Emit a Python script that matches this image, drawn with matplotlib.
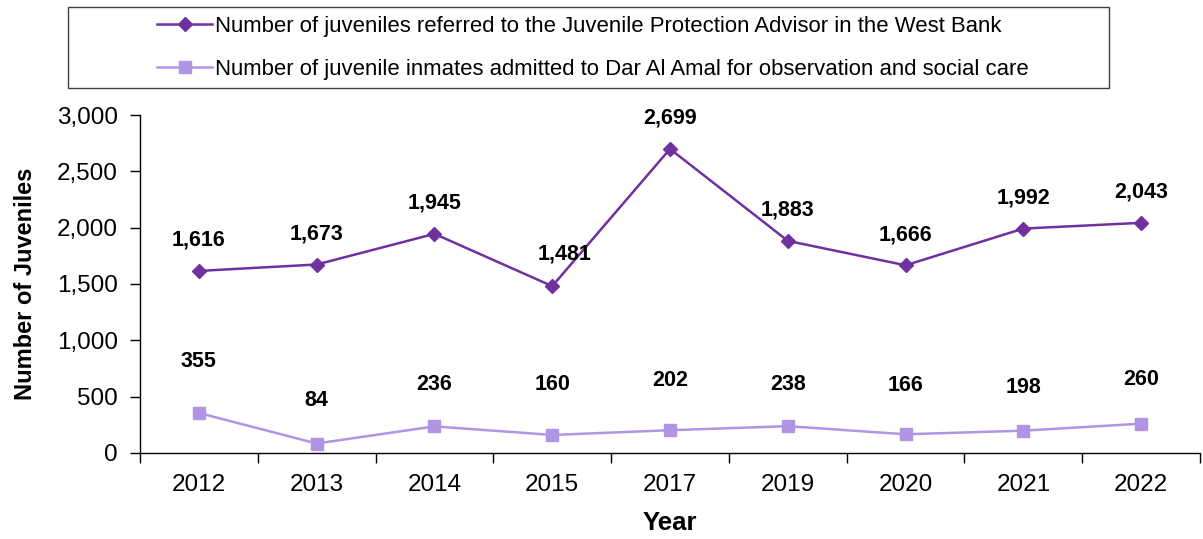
import matplotlib
matplotlib.use("Agg")
import matplotlib.pyplot as plt
from matplotlib.patches import Rectangle
from matplotlib.ticker import FuncFormatter, FixedLocator

plt.rcParams['font.family'] = ['Liberation Sans', 'DejaVu Sans']

years = ['2012', '2013', '2014', '2015', '2017', '2019', '2020', '2021', '2022']
referred = [1616, 1673, 1945, 1481, 2699, 1883, 1666, 1992, 2043]
admitted = [355, 84, 236, 160, 202, 238, 166, 198, 260]

label_referred = 'Number of juveniles referred to the Juvenile Protection Advisor in the West Bank'
label_admitted = 'Number of juvenile inmates admitted to Dar Al Amal for observation and social care'

dark = '#7030A0'
light = '#B294E4'

fig = plt.figure(figsize=(12.03, 5.39), dpi=100)
ax = fig.add_axes([0.1164, 0.1596, 0.8811, 0.627])

x = list(range(len(years)))
ax.plot(x, referred, color=dark, lw=1.8, marker='D', ms=7.5, label=label_referred)
ax.plot(x, admitted, color=light, lw=1.8, marker='s', ms=9, label=label_admitted)

# label offsets in points (dx, dy)
off1 = [(0, 22)] * len(x)
off1[3] = (9, 23)
off2 = [(0, 37), (0, 31), (0, 30), (0, 36), (0, 36), (0, 30), (0, 35), (0, 31), (0, 32)]
for i in x:
    ax.annotate(f'{referred[i]:,}', (i, referred[i]), xytext=off1[i], textcoords='offset points',
                ha='center', va='center', fontsize=15.5, fontweight='bold')
    ax.annotate(f'{admitted[i]:,}', (i, admitted[i]), xytext=off2[i], textcoords='offset points',
                ha='center', va='center', fontsize=15.5, fontweight='bold')

ax.set_xlim(-0.5, len(years) - 0.5)
ax.set_ylim(0, 3000)
ax.set_yticks(range(0, 3001, 500))
ax.yaxis.set_major_formatter(FuncFormatter(lambda v, p: f'{int(v):,}'))
ax.set_xticks(x)
ax.set_xticklabels(years)
ax.xaxis.set_minor_locator(FixedLocator([i - 0.5 for i in range(len(years) + 1)]))
ax.tick_params(axis='x', which='major', length=0, labelsize=17.5, pad=15)
ax.tick_params(axis='x', which='minor', length=7, width=1)
ax.tick_params(axis='y', length=7, width=1, labelsize=17.5, pad=9)

for s in ['top', 'right']:
    ax.spines[s].set_visible(False)
for s in ['left', 'bottom']:
    ax.spines[s].set_linewidth(1)

ax.set_xlabel('Year', fontsize=18.5, fontweight='bold', labelpad=11)
ax.set_ylabel('Number of Juveniles', fontsize=17, fontweight='bold', labelpad=14)

# legend box
W, H = 1203, 539
fig.patches.append(Rectangle((68 / W, 1 - 88 / H), (1109 - 68) / W, (88 - 7) / H,
                             transform=fig.transFigure, fill=False, ec='#404040', lw=1))
fig.legend(loc='center left', bbox_to_anchor=(146 / W, 1 - 48 / H), frameon=False,
           fontsize=15.95, handlelength=2.48, handletextpad=0.13, labelspacing=1.0, borderpad=0)

fig.savefig('out.png', dpi=100)
